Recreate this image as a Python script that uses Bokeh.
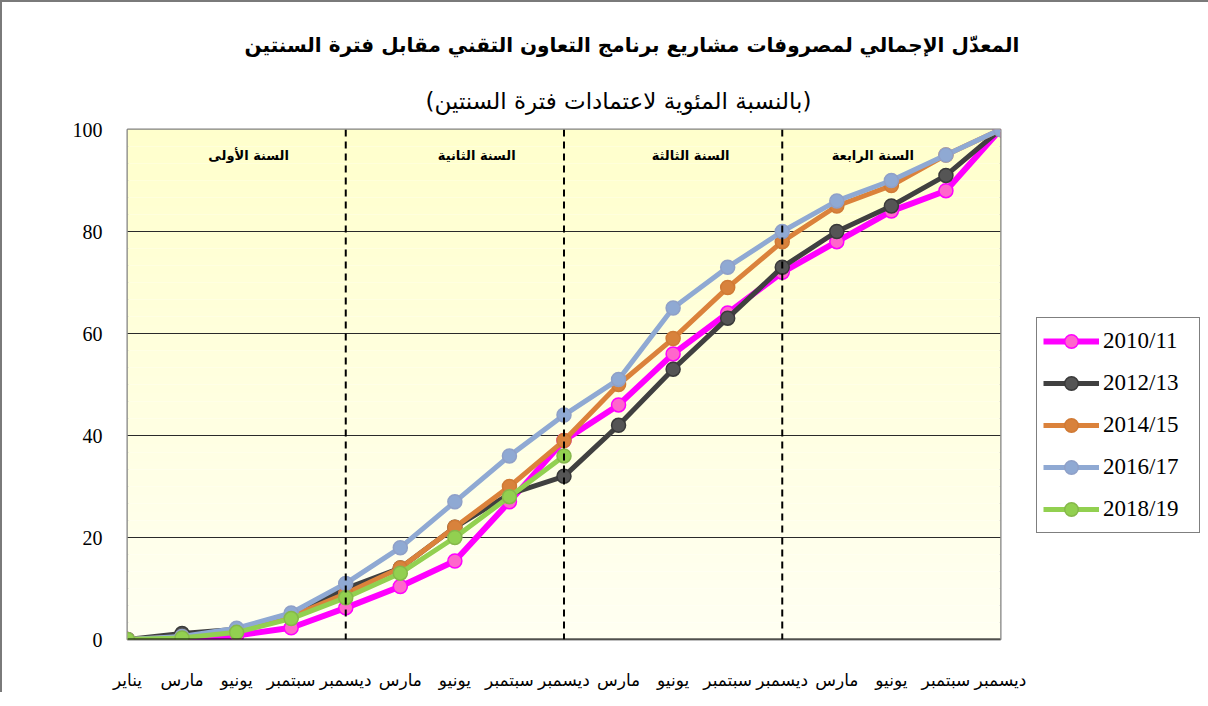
from bokeh.plotting import figure
from bokeh.models import (Range1d, FixedTicker, Label, Span, Legend, LegendItem,
                          ColumnDataSource, Title)
from bokeh.embed import file_html
from bokeh.resources import INLINE
import numpy as np

# ---------------- data ----------------
months = ["يناير", "مارس", "يونيو", "سبتمبر", "ديسمبر",
          "مارس", "يونيو", "سبتمبر", "ديسمبر",
          "مارس", "يونيو", "سبتمبر", "ديسمبر",
          "مارس", "يونيو", "سبتمبر", "ديسمبر"]
series_names = ["2010/11", "2012/13", "2014/15", "2016/17", "2018/19"]
s2010_11 = [0, 0, 0.8, 2.3, 6.2, 10.4, 15.4, 27, 39, 46, 56, 64, 72, 78, 84, 88, 100]
s2012_13 = [0, 1.2, 2, 4.6, 10, 14, 22, 28.5, 32, 42, 53, 63, 73, 80, 85, 91, 100]
s2014_15 = [0, 0.5, 1.6, 4.5, 9, 14, 22, 30, 39, 50, 59, 69, 78, 85, 89, 95, 100]
s2016_17 = [0, 0.6, 2.2, 5.2, 11, 18, 27, 36, 44, 51, 65, 73, 80, 86, 90, 95, 100]
s2018_19 = [0, 0.3, 1.4, 4.1, 8.2, 13, 20, 28, 36]
year_labels = ["السنة الأولى", "السنة الثانية", "السنة الثالثة", "السنة الرابعة"]
y_ticks = [0, 20, 40, 60, 80, 100]

title_text = "المعدّل الإجمالي لمصروفات مشاريع برنامج التعاون التقني مقابل فترة السنتين"
subtitle_text = "(بالنسبة المئوية لاعتمادات فترة السنتين)"

# ---------------- styles ----------------
AR_FONT = "DejaVu Sans"
NUM_FONT = "Liberation Serif"
line_colors = ["#FF00FF", "#404040", "#DB823B", "#8FA9D3", "#92D050"]
fill_colors = ["#FF66CC", "#555555", "#D8823C", "#8FA9D3", "#92D050"]
edge_colors = ["#FF00FF", "#3A3A3A", "#D07A35", "#8FA0C8", "#86B84A"]
line_widths = [6, 5, 5, 5, 5]

n = len(months)
x_idx = list(range(n))

p = figure(frame_width=873, frame_height=510,
           x_range=Range1d(0, n - 1), y_range=Range1d(0, 100),
           output_backend="svg", toolbar_location=None,
           min_border_left=125, min_border_top=127, min_border_right=200,
           min_border_bottom=50)
p.background_fill_color = "white"
p.border_fill_color = "white"
p.outline_line_color = "#808080"
p.outline_line_width = 2
p.styles = {"border-left": "2px solid #7a7a7a", "border-top": "2px solid #7a7a7a"}

# gradient background (bands)
nb = 60
edges = np.linspace(0, 100, nb + 1)
top_c = np.array([255, 255, 204])
bot_c = np.array([255, 255, 242])
cols = []
for i in range(nb):
    t = (i + 0.5) / nb
    c = bot_c + (top_c - bot_c) * t
    cols.append("#%02x%02x%02x" % tuple(int(round(v)) for v in c))
p.quad(left=0, right=n - 1, bottom=edges[:-1], top=edges[1:],
       fill_color=cols, line_color=None, level="image")

# axes
p.xaxis.ticker = FixedTicker(ticks=x_idx)
p.xaxis.major_label_overrides = {i: m for i, m in enumerate(months)}
p.xaxis.major_label_text_font = AR_FONT
p.xaxis.major_label_text_font_size = "17px"
p.xaxis.major_label_text_color = "black"
p.xaxis.major_label_standoff = 24
p.xaxis.axis_line_color = None
p.xaxis.major_tick_line_color = None
p.xaxis.minor_tick_line_color = None

p.yaxis.ticker = FixedTicker(ticks=y_ticks)
p.yaxis.major_label_text_font = NUM_FONT
p.yaxis.major_label_text_font_size = "20px"
p.yaxis.major_label_text_color = "black"
p.yaxis.major_label_standoff = 19
p.yaxis.axis_line_color = None
p.yaxis.major_tick_line_color = None
p.yaxis.minor_tick_line_color = None

p.xgrid.grid_line_color = None
p.ygrid.ticker = FixedTicker(ticks=y_ticks)
p.ygrid.grid_line_color = "#2a2a2a"
p.ygrid.grid_line_width = 1

# zero line
p.add_layout(Span(location=0, dimension="width", line_color="black", line_width=2))

# year separators
for k in [4, 8, 12]:
    p.add_layout(Span(location=k, dimension="height", line_color="black",
                      line_width=2, line_dash="7 5"))

# year labels
year_label_x = [2.22, 6.40, 10.32, 13.66]
for xl, txt in zip(year_label_x, year_labels):
    p.add_layout(Label(x=xl, y=95, text=txt, text_align="center", text_baseline="middle",
                       text_font=AR_FONT, text_font_size="13px", text_font_style="bold",
                       text_color="black"))

# series
all_series = [s2010_11, s2012_13, s2014_15, s2016_17, s2018_19]
items = []
for name, ys, lc, fc, ec, lw in zip(series_names, all_series, line_colors, fill_colors,
                                     edge_colors, line_widths):
    src = ColumnDataSource(dict(x=x_idx[:len(ys)], y=ys))
    r1 = p.line("x", "y", source=src, line_color=lc, line_width=lw, line_join="round")
    r2 = p.scatter("x", "y", source=src, size=14, fill_color=fc, line_color=ec, line_width=1.5)
    items.append(LegendItem(label=name, renderers=[r1, r2]))

legend = Legend(items=items, location=(36, 106))
legend.label_text_font = NUM_FONT
legend.label_text_font_size = "23px"
legend.label_text_color = "black"
legend.glyph_width = 56
legend.glyph_height = 34
legend.label_height = 34
legend.label_width = 90
legend.label_standoff = 4
legend.spacing = 8
legend.padding = 6
legend.margin = 0
legend.border_line_color = "black"
legend.border_line_width = 1.5
legend.background_fill_color = "white"
legend.background_fill_alpha = 1
p.add_layout(legend, "right")

# titles (first added sits closest to the plot)
p.add_layout(Title(text=subtitle_text, align="left", offset=298, standoff=32,
                   text_font=AR_FONT, text_font_size="23px", text_font_style="normal",
                   text_color="black"), "above")
p.add_layout(Title(text=title_text, align="left", offset=117, standoff=26,
                   text_font=AR_FONT, text_font_size="20px", text_font_style="bold",
                   text_color="black"), "above")

open("out.html", "w").write(file_html(p, INLINE))
